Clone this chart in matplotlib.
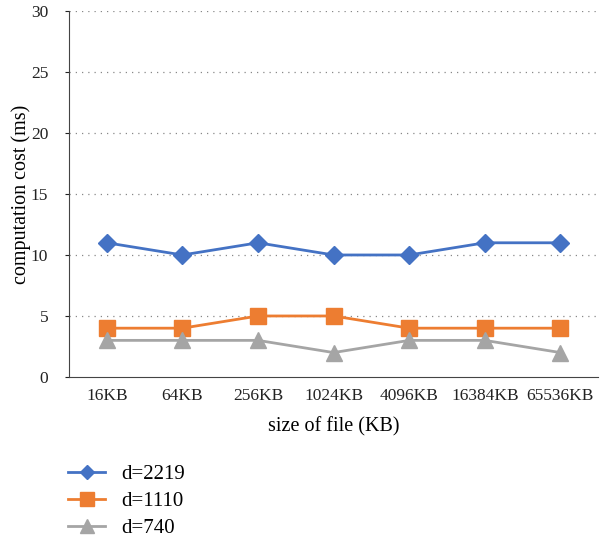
import matplotlib
matplotlib.use('Agg')
import matplotlib.pyplot as plt

categories = ['16KB', '64KB', '256KB', '1024KB', '4096KB', '16384KB', '65536KB']
d2219 = [11, 10, 11, 10, 10, 11, 11]
d1110 = [4, 4, 5, 5, 4, 4, 4]
d740 = [3, 3, 3, 2, 3, 3, 2]

plt.rcParams['font.family'] = ['Liberation Serif', 'DejaVu Serif']
plt.rcParams['font.size'] = 12.5

fig = plt.figure(figsize=(6.0, 5.39), dpi=100)
ax = fig.add_axes([0.115, 0.3006, 0.882, 0.679])

x = list(range(len(categories)))
ax.plot(x, d2219, color='#4472C4', lw=2, marker='D', ms=9, label='d=2219')
ax.plot(x, d1110, color='#ED7D31', lw=2, marker='s', ms=12, label='d=1110')
ax.plot(x, d740, color='#A5A5A5', lw=2, marker='^', ms=12, label='d=740')

ax.set_xlim(-0.5, len(categories) - 0.5)
ax.set_ylim(0, 30)
ax.set_yticks(range(0, 31, 5))
ax.set_xticks(x)
ax.set_xticklabels(categories)
ax.tick_params(axis='x', length=0, pad=8, colors='#222222')
ax.tick_params(axis='y', length=3, width=0.8, pad=12, colors='#222222')
for yv in range(5, 31, 5):
    ax.axhline(yv, color='#888888', lw=0.9, ls=(0, (1, 4)), zorder=0)

for s in ['top', 'right']:
    ax.spines[s].set_visible(False)
ax.spines['left'].set_color('#444444')
ax.spines['bottom'].set_color('#444444')

ax.set_xlabel('size of file (KB)', fontsize=14.5, labelpad=9)
ax.set_ylabel('computation cost (ms)', fontsize=14.5, labelpad=0)

fig.legend(loc='lower left', bbox_to_anchor=(0.082, -0.033), frameon=False,
           fontsize=15, handlelength=1.8, labelspacing=0.36, handletextpad=0.75,
           markerscale=0.8)

fig.savefig('out.png', dpi=100)
